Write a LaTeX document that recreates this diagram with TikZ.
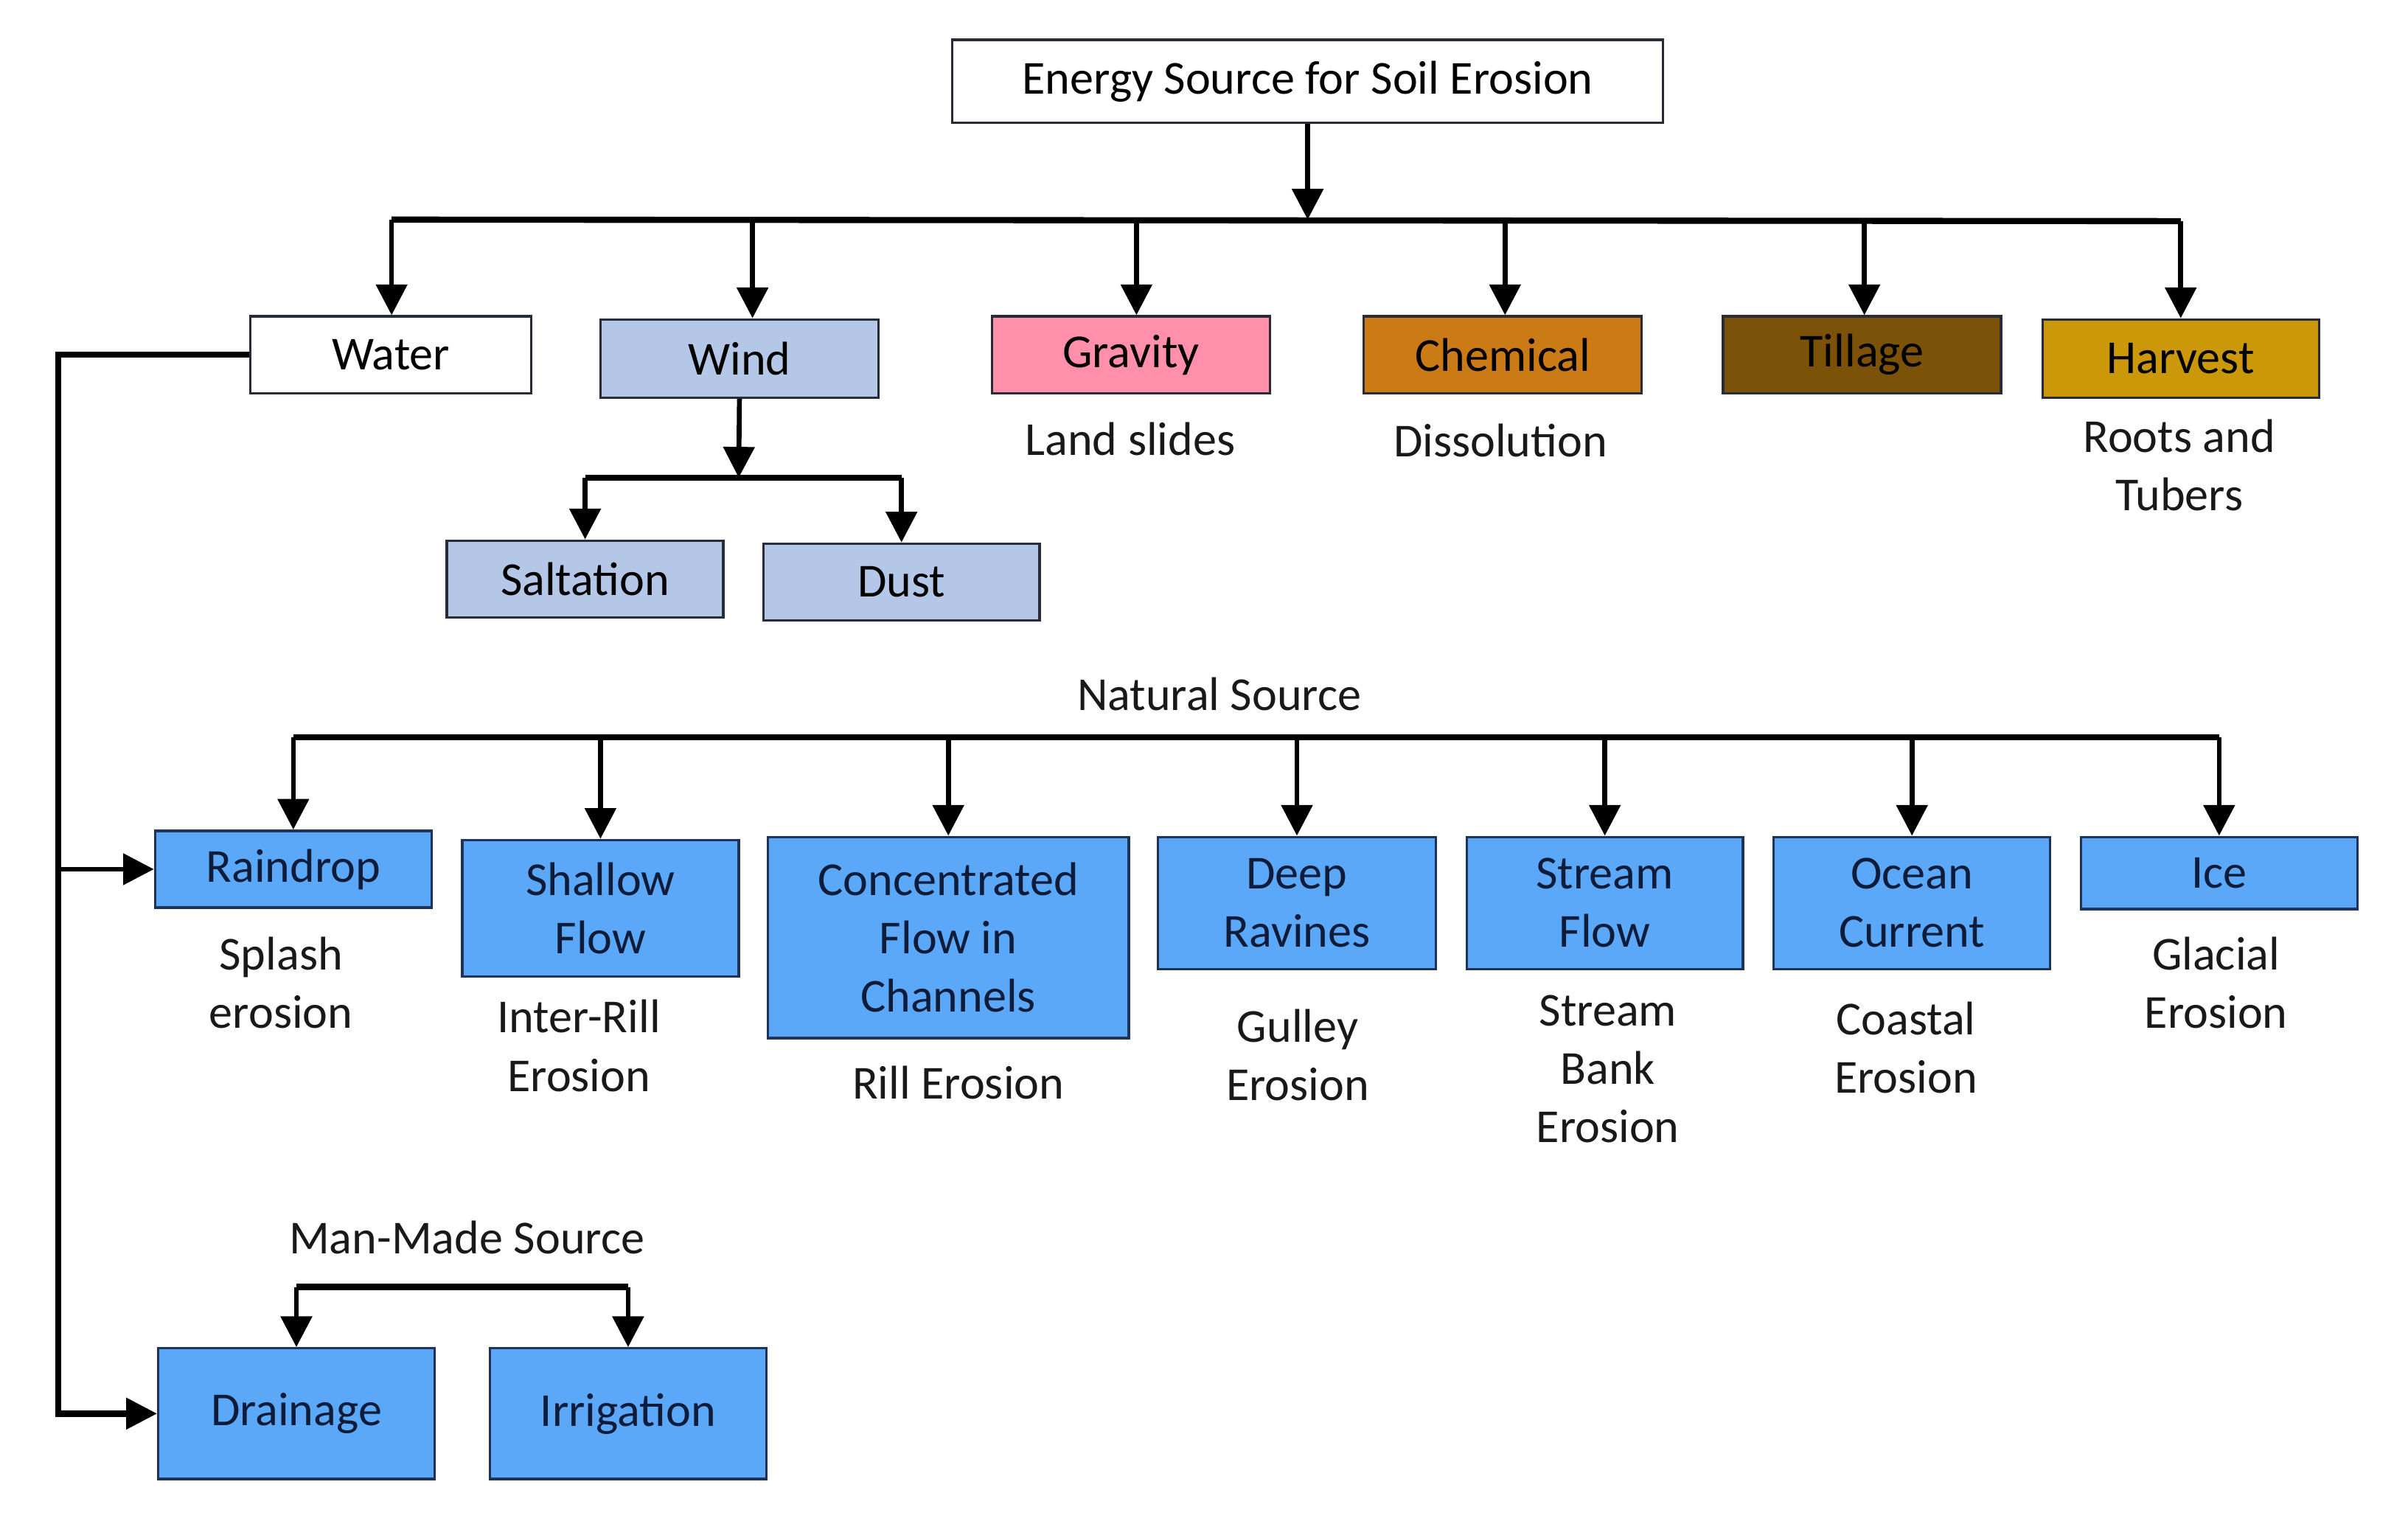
\documentclass[tikz,border=0pt]{standalone}
\usepackage{fontspec}
\setmainfont{Carlito}
\usetikzlibrary{arrows.meta}
\definecolor{windblue}{RGB}{180,199,231}
\definecolor{gravpink}{RGB}{255,143,171}
\definecolor{chemorange}{RGB}{202,123,22}
\definecolor{tillbrown}{RGB}{124,81,8}
\definecolor{harvgold}{RGB}{202,152,8}
\definecolor{natblue}{RGB}{91,168,248}
\definecolor{navytext}{RGB}{14,28,58}
\definecolor{boxline}{RGB}{40,44,56}
\definecolor{navyline}{RGB}{30,50,90}
\newcommand{\bx}[7]{%
  \node[box, fill=#6, minimum width={(#4-#2)*0.5pt}, minimum height={(#5-#3)*0.5pt}]
    (#1) at ({(#2+#4)/2},{(#3+#5)/2}) {#7};}
\begin{document}
\begin{tikzpicture}[x=0.5pt,y=-0.5pt,
  every node/.style={font=\fontsize{15.4}{19}\selectfont},
  box/.style={draw=boxline, line width=0.8pt, inner sep=0pt, align=center},
  nbox/.style={draw=navyline, text=navytext},
  lbl/.style={align=center, inner sep=0pt, text=black!90},
  conn/.style={line width=1.6pt, -{Triangle[length=10pt,width=10pt]}},
  bus/.style={line width=2pt, line join=miter}]
\useasboundingbox[fill=white] (0,0) rectangle (1568,990.4);

% boxes
\bx{top}{620}{26}{1083}{80}{white}{Energy Source for Soil Erosion}
\bx{water}{163}{206}{346}{256}{white}{Water}
\bx{wind}{391}{208}{572}{259}{windblue}{Wind}
\bx{gravity}{646}{206}{827}{256}{gravpink}{Gravity}
\bx{chem}{888}{206}{1069}{256}{chemorange}{Chemical}
\bx{till}{1122}{206}{1303}{256}{tillbrown}{Tillage}
\bx{harv}{1330}{208}{1510}{259}{harvgold}{Harvest}
\bx{salt}{291}{352}{471}{402}{windblue}{Saltation}
\bx{dust}{497}{354}{677}{404}{windblue}{Dust}
\tikzset{box/.append style={nbox}}
\bx{rain}{101}{541}{281}{591}{natblue}{Raindrop}
\bx{shallow}{301}{547}{481}{636}{natblue}{Shallow\\Flow}
\bx{conc}{500}{545}{735}{676}{natblue}{Concentrated\\Flow in\\Channels}
\bx{deep}{754}{545}{935}{631}{natblue}{Deep\\Ravines}
\bx{stream}{955}{545}{1135}{631}{natblue}{Stream\\Flow}
\bx{ocean}{1155}{545}{1335}{631}{natblue}{Ocean\\Current}
\bx{ice}{1355}{545}{1535}{592}{natblue}{Ice}
\bx{drain}{103}{878}{283}{963}{natblue}{Drainage}
\bx{irr}{319}{878}{499}{963}{natblue}{Irrigation}

% labels
\node[lbl] (landslides) at (736,286) {Land slides};
\node[lbl] (dissol) at (977,287) {Dissolution};
\node[lbl] (roots) at (1419,303) {Roots and\\Tubers};
\node[lbl] (natural) at (794,452) {Natural Source};
\node[lbl] (splash) at (183,640) {Splash\\erosion};
\node[lbl] (interrill) at (377,681) {Inter-Rill\\Erosion};
\node[lbl] (rill) at (624,705) {Rill Erosion};
\node[lbl] (gulley) at (845,687) {Gulley\\Erosion};
\node[lbl] (bank) at (1047,696) {Stream\\Bank\\Erosion};
\node[lbl] (coastal) at (1241,682) {Coastal\\Erosion};
\node[lbl] (glacial) at (1443,640) {Glacial\\Erosion};
\node[lbl] (manmade) at (304,806) {Man-Made Source};

% main bus
\coordinate (busL) at (255,143);
\coordinate (busR) at (1420,144);
\coordinate (jwind) at (490,143);
\coordinate (jgrav) at (740,143);
\coordinate (jchem) at (980,143);
\coordinate (jtill) at (1214,143);
\draw[bus] (busL) -- (busR);
\draw[conn] (top.south) -- (top.south |- busL);
\draw[conn] (busL) -- (busL |- water.north);
\draw[conn] (jwind) -- (jwind |- wind.north);
\draw[conn] (jgrav) -- (jgrav |- gravity.north);
\draw[conn] (jchem) -- (jchem |- chem.north);
\draw[conn] (jtill) -- (jtill |- till.north);
\draw[conn] (busR) -- (busR |- harv.north);

% wind sub-bus
\coordinate (wbus) at (481,311);
\draw[conn] (wind.south) -- (wbus);
\draw[bus] (salt.north |- wbus) -- (dust.north |- wbus);
\draw[conn] (salt.north |- wbus) -- (salt.north);
\draw[conn] (dust.north |- wbus) -- (dust.north);

% natural bus
\coordinate (nbus) at (0,480);
\draw[bus] (rain.north |- nbus) -- (ice.north |- nbus);
\foreach \n in {rain,shallow,conc,deep,stream,ocean,ice}
  \draw[conn] (\n.north |- nbus) -- (\n.north);

% water left line
\coordinate (lx) at (38,0);
\draw[bus] (water.west) -- (water.west -| lx) -- (drain.west -| lx) -- ([xshift=-10pt]drain.west);
\draw[conn] (drain.west -| lx) -- (drain.west);
\draw[conn] (rain.west -| lx) -- (rain.west);

% man-made bracket
\coordinate (mbus) at (0,838);
\draw[bus] (drain.north |- mbus) -- (irr.north |- mbus);
\draw[conn] (drain.north |- mbus) -- (drain.north);
\draw[conn] (irr.north |- mbus) -- (irr.north);
\end{tikzpicture}
\end{document}
